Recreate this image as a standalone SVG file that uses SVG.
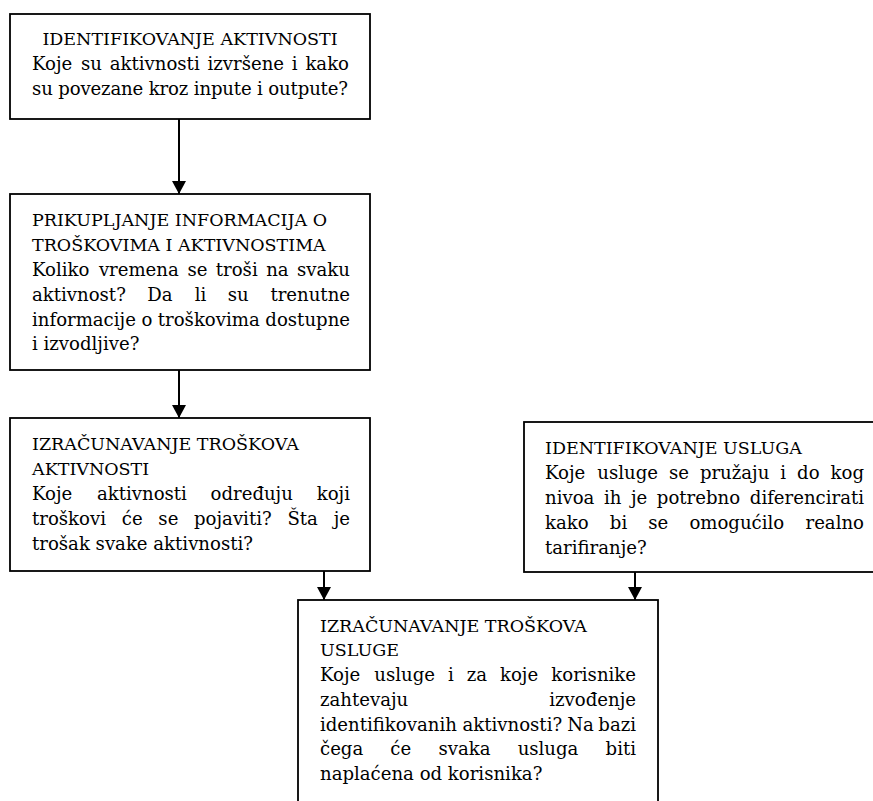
<svg xmlns="http://www.w3.org/2000/svg" width="873" height="801" viewBox="0 0 873 801">
<style>
.box{fill:#fff;stroke:#000;stroke-width:1.8}
.t{font-family:"DejaVu Serif","Liberation Serif",serif;font-size:18.1px;fill:#000}
.h{font-size:17.5px}
.e{text-anchor:end}
.c{text-anchor:middle}
.conn{stroke:#000;stroke-width:2;fill:none;marker-end:url(#ah)}
</style>
<defs>
<marker id="ah" markerUnits="userSpaceOnUse" markerWidth="14" markerHeight="14" refX="13" refY="7" orient="auto">
<path d="M0,0 L13,7 L0,14 z" fill="#000"/>
</marker>
</defs>
<rect width="873" height="801" fill="#fff"/>
<g id="connectors">
<line class="conn" x1="179" y1="119" x2="179" y2="194"/>
<line class="conn" x1="179" y1="370" x2="179" y2="418"/>
<line class="conn" x1="324" y1="571" x2="324" y2="600"/>
<line class="conn" x1="635" y1="572" x2="635" y2="600"/>
</g>
<g id="n1">
<rect class="box" x="10" y="14" width="360" height="105"/>
<text class="t h c" x="190" y="45">IDENTIFIKOVANJE AKTIVNOSTI</text>
<text class="t" y="70"><tspan x="32">Koje</tspan><tspan x="81.06">su</tspan><tspan x="109.76">aktivnosti</tspan><tspan x="207.51">izvršene</tspan><tspan x="291.82">i</tspan></text>
<text class="t e" x="349" y="70">kako</text>
<text class="t" x="32" y="95" textLength="316" lengthAdjust="spacing">su povezane kroz inpute i outpute?</text>
</g>
<g id="n2">
<rect class="box" x="10" y="194" width="360" height="176"/>
<text class="t h" x="32" y="226">PRIKUPLJANJE INFORMACIJA O</text>
<text class="t h" x="32" y="251">TROŠKOVIMA I AKTIVNOSTIMA</text>
<text class="t" y="276"><tspan x="32">Koliko</tspan><tspan x="98.89">vremena</tspan><tspan x="187.39">se</tspan><tspan x="215.8">troši</tspan><tspan x="266.14">na</tspan></text>
<text class="t e" x="350" y="276">svaku</text>
<text class="t" y="301"><tspan x="32">aktivnost?</tspan><tspan x="147.34">Da</tspan><tspan x="194.73">li</tspan><tspan x="227.84">su</tspan></text>
<text class="t e" x="350" y="301">trenutne</text>
<text class="t" y="326"><tspan x="32">informacije</tspan><tspan x="141.55">o</tspan><tspan x="157.81">troškovima</tspan></text>
<text class="t e" x="350" y="326">dostupne</text>
<text class="t" x="32" y="350">i izvodljive?</text>
</g>
<g id="n3">
<rect class="box" x="10" y="418" width="360" height="153"/>
<text class="t h" x="32" y="450">IZRAČUNAVANJE TROŠKOVA</text>
<text class="t h" x="32" y="475">AKTIVNOSTI</text>
<text class="t" y="500"><tspan x="32">Koje</tspan><tspan x="96.97">aktivnosti</tspan><tspan x="210.55">određuju</tspan></text>
<text class="t e" x="350" y="500">koji</text>
<text class="t" y="525"><tspan x="32">troškovi</tspan><tspan x="121.76">će</tspan><tspan x="158.36">se</tspan><tspan x="194.03">pojaviti?</tspan><tspan x="287.42">Šta</tspan></text>
<text class="t e" x="350" y="525">je</text>
<text class="t" x="32" y="550">trošak svake aktivnosti?</text>
</g>
<g id="n4">
<rect class="box" x="524" y="422" width="370" height="150"/>
<text class="t h" x="545" y="454">IDENTIFIKOVANJE USLUGA</text>
<text class="t" y="479"><tspan x="545">Koje</tspan><tspan x="597.32">usluge</tspan><tspan x="668.98">se</tspan><tspan x="699.89">pružaju</tspan><tspan x="780.34">i</tspan><tspan x="797.08">do</tspan></text>
<text class="t e" x="864" y="479">kog</text>
<text class="t" y="504"><tspan x="545">nivoa</tspan><tspan x="603.91">ih</tspan><tspan x="630.96">je</tspan><tspan x="656.87">potrebno</tspan></text>
<text class="t e" x="864" y="504">diferencirati</text>
<text class="t" y="529"><tspan x="545">kako</tspan><tspan x="609.82">bi</tspan><tspan x="648.32">se</tspan><tspan x="689.4">omogućilo</tspan></text>
<text class="t e" x="864" y="529">realno</text>
<text class="t" x="545" y="554">tarifiranje?</text>
</g>
<g id="n5">
<rect class="box" x="298" y="600" width="360" height="230"/>
<text class="t h" x="320" y="632">IZRAČUNAVANJE TROŠKOVA</text>
<text class="t h" x="320" y="656">USLUGE</text>
<text class="t" y="681"><tspan x="320">Koje</tspan><tspan x="374.33">usluge</tspan><tspan x="448">i</tspan><tspan x="466.75">za</tspan><tspan x="499.98">koje</tspan></text>
<text class="t e" x="636" y="681">korisnike</text>
<text class="t" x="320" y="706">zahtevaju</text>
<text class="t e" x="636" y="706">izvođenje</text>
<text class="t" y="731"><tspan x="320">identifikovanih</tspan><tspan x="462.5">aktivnosti?</tspan><tspan x="567.25">Na</tspan></text>
<text class="t e" x="636" y="731">bazi</text>
<text class="t" y="755"><tspan x="320">čega</tspan><tspan x="390.36">će</tspan><tspan x="438.38">svaka</tspan><tspan x="517.64">usluga</tspan></text>
<text class="t e" x="636" y="755">biti</text>
<text class="t" x="320" y="780">naplaćena od korisnika?</text>
</g>
</svg>
